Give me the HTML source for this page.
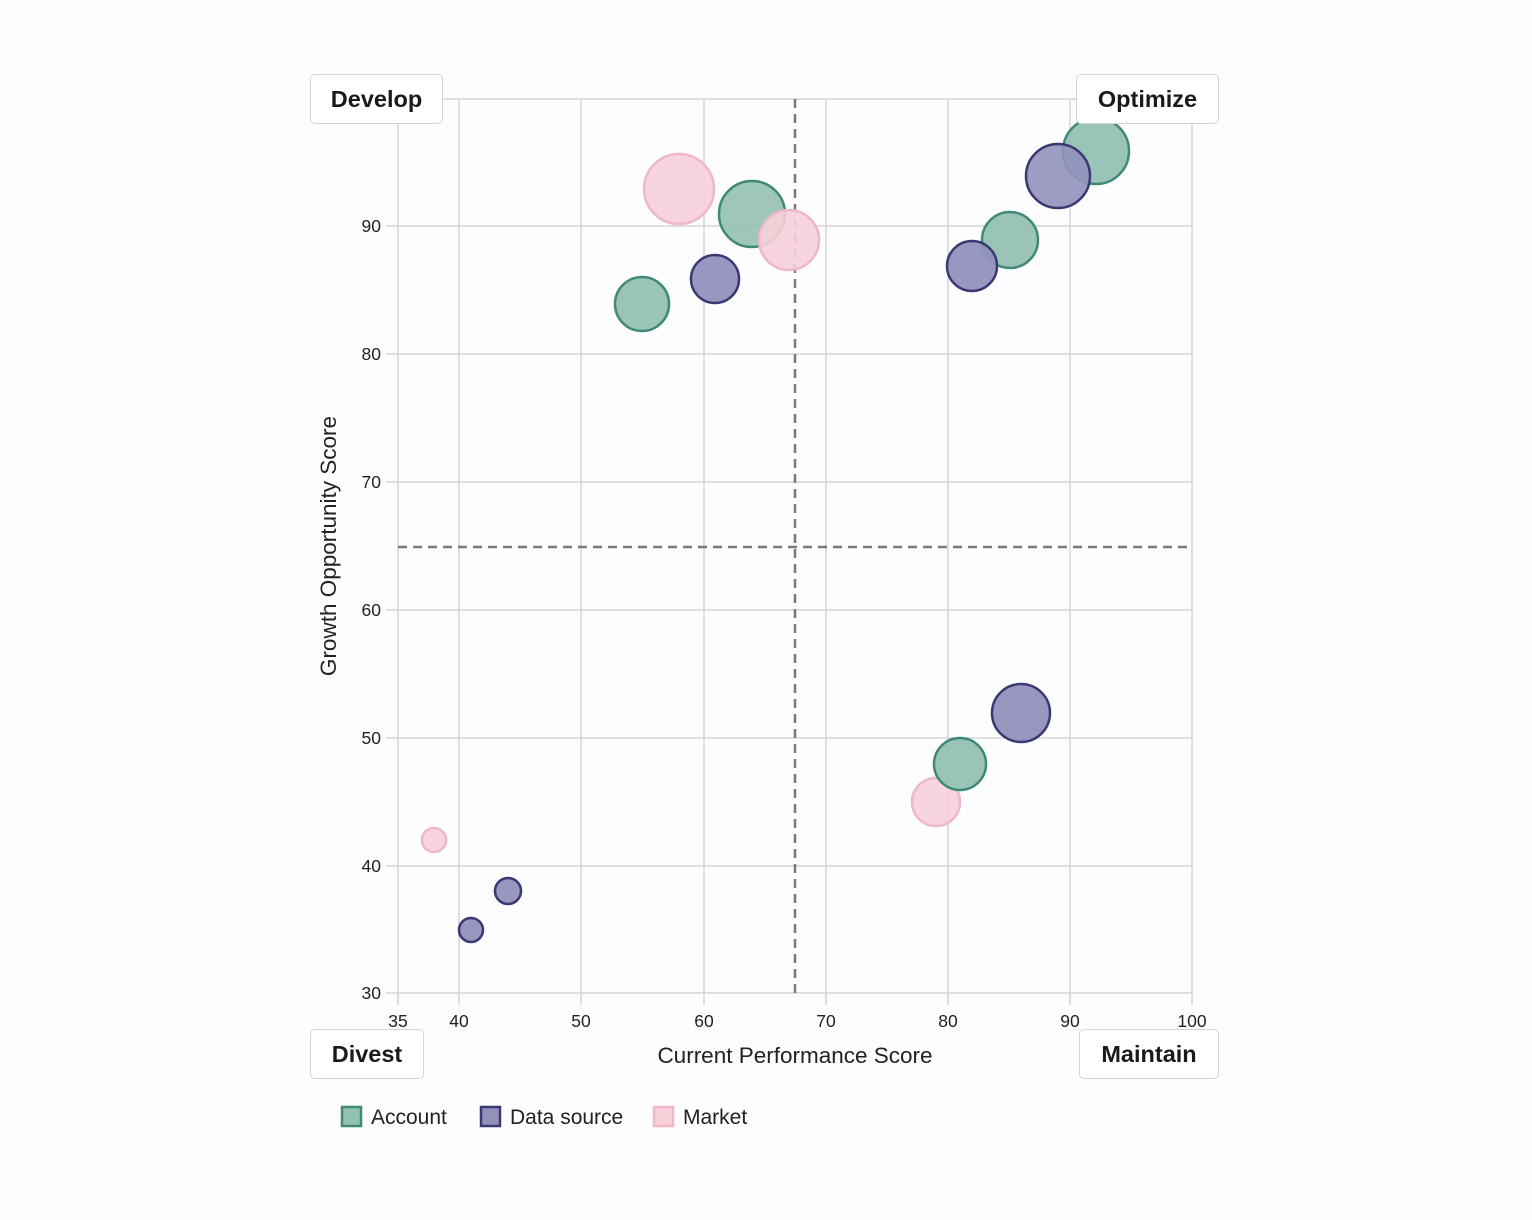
<!DOCTYPE html>
<html><head><style>
body{margin:0;background:#fff;}
.box{position:absolute;background:#fff;border:1.5px solid #d6d3d8;border-radius:5px;font:bold 23.5px "Liberation Sans",sans-serif;color:#1a1a1a;display:flex;align-items:center;justify-content:center;box-sizing:border-box;}
</style></head><body>
<div style="position:relative;width:1532px;height:1220px;background:#fdfcfe;">
<svg width="1532" height="1220" style="position:absolute;left:0;top:0" font-family="Liberation Sans, sans-serif">
<g stroke="#d6d3d8" stroke-width="1.5">
<line x1="398" y1="99" x2="1192" y2="99"/>
<line x1="386" y1="226" x2="1192" y2="226"/>
<line x1="386" y1="354" x2="1192" y2="354"/>
<line x1="386" y1="482" x2="1192" y2="482"/>
<line x1="386" y1="610" x2="1192" y2="610"/>
<line x1="386" y1="738" x2="1192" y2="738"/>
<line x1="386" y1="866" x2="1192" y2="866"/>
<line x1="386" y1="993" x2="1192" y2="993"/>
<line x1="398" y1="99" x2="398" y2="1005"/>
<line x1="459" y1="99" x2="459" y2="1005"/>
<line x1="581" y1="99" x2="581" y2="1005"/>
<line x1="704" y1="99" x2="704" y2="1005"/>
<line x1="826" y1="99" x2="826" y2="1005"/>
<line x1="948" y1="99" x2="948" y2="1005"/>
<line x1="1070" y1="99" x2="1070" y2="1005"/>
<line x1="1192" y1="99" x2="1192" y2="1005"/>
</g>
<g stroke="#7b787e" stroke-width="2.5" stroke-dasharray="9,6">
<line x1="795" y1="99" x2="795" y2="993"/>
<line x1="398" y1="547" x2="1192" y2="547"/>
</g>
<g font-size="17.5" fill="#222" text-anchor="end">
<text x="381" y="232">90</text><text x="381" y="360">80</text><text x="381" y="488">70</text>
<text x="381" y="616">60</text><text x="381" y="744">50</text><text x="381" y="872">40</text><text x="381" y="999">30</text>
</g>
<g font-size="17.5" fill="#222" text-anchor="middle">
<text x="398" y="1027">35</text><text x="459" y="1027">40</text><text x="581" y="1027">50</text><text x="704" y="1027">60</text>
<text x="826" y="1027">70</text><text x="948" y="1027">80</text><text x="1070" y="1027">90</text><text x="1192" y="1027">100</text>
</g>
<text x="795" y="1063" font-size="22.5" fill="#222" text-anchor="middle">Current Performance Score</text>
<text transform="translate(336,546) rotate(-90)" font-size="22.5" fill="#222" text-anchor="middle">Growth Opportunity Score</text>
<g stroke-width="2.5">
<g fill="#f7d0da" stroke="#efb8c6" fill-opacity="0.9">
<circle cx="679" cy="189" r="35"/>
</g>
<g fill="#93c1b3" stroke="#3f8a76" fill-opacity="0.9">
<circle cx="752" cy="214" r="33"/>
</g>
<g fill="#f7d0da" stroke="#efb8c6" fill-opacity="0.9">
<circle cx="789" cy="240" r="30"/><circle cx="936" cy="802" r="24"/><circle cx="434" cy="840" r="12"/>
</g>
<g fill="#93c1b3" stroke="#3f8a76" fill-opacity="0.95">
<circle cx="642" cy="304" r="27"/><circle cx="1010" cy="240" r="28"/><circle cx="960" cy="764" r="26"/>
</g>
<g fill="#9291bc" stroke="#3b3873" fill-opacity="0.95">
<circle cx="715" cy="279" r="24"/><circle cx="972" cy="266" r="25"/><circle cx="1021" cy="713" r="29"/>
<circle cx="508" cy="891" r="13"/><circle cx="471" cy="930" r="12"/>
</g>
<g fill="#93c1b3" stroke="#3f8a76" fill-opacity="0.95"><circle cx="1096" cy="151" r="33"/></g>
<g fill="#9291bc" stroke="#3b3873" fill-opacity="0.9"><circle cx="1058" cy="176" r="32"/></g>
</g>
<g stroke-width="2.5">
<rect x="342" y="1107" width="19" height="19" fill="#93c1b3" stroke="#3f8a76"/>
<rect x="481" y="1107" width="19" height="19" fill="#9291bc" stroke="#3b3873"/>
<rect x="654" y="1107" width="19" height="19" fill="#f7d0da" stroke="#efb8c6"/>
</g>
<g font-size="21" fill="#222">
<text x="371" y="1124">Account</text><text x="510" y="1124">Data source</text><text x="683" y="1124">Market</text>
</g>
</svg>
<div class="box" style="left:310px;top:74px;width:133px;height:50px;">Develop</div>
<div class="box" style="left:1076px;top:74px;width:143px;height:50px;">Optimize</div>
<div class="box" style="left:310px;top:1029px;width:114px;height:50px;">Divest</div>
<div class="box" style="left:1079px;top:1029px;width:140px;height:50px;">Maintain</div>
</div>
</body></html>
